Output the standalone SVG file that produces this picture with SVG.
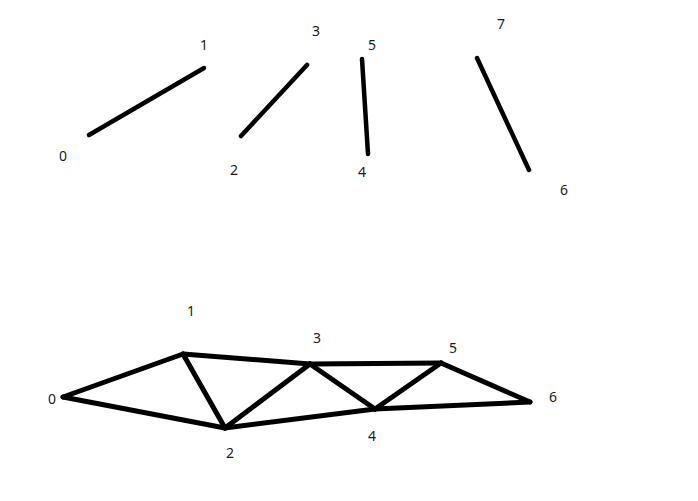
<svg xmlns="http://www.w3.org/2000/svg" width="698" height="501" viewBox="0 0 698 501">
<style>
.e{stroke:#000;stroke-width:4.5;stroke-linecap:round;fill:none}
.b{stroke:#000;stroke-width:5;stroke-linecap:round;stroke-linejoin:round;fill:none}
text{font-family:"Noto Sans","DejaVu Sans",sans-serif;font-size:14px;fill:#1a1a1a;text-anchor:middle}
</style>
<rect width="698" height="501" fill="#fff"/>
<g id="connectors">
<line class="e" x1="89" y1="135" x2="204" y2="68"/>
<line class="e" x1="241" y1="136" x2="307" y2="65"/>
<line class="e" x1="362" y1="59" x2="368" y2="154"/>
<line class="e" x1="477" y1="58" x2="529" y2="170"/>
<line class="b" x1="63" y1="397" x2="183" y2="354"/>
<line class="b" x1="63" y1="397" x2="225" y2="428"/>
<line class="b" x1="183" y1="354" x2="225" y2="428"/>
<line class="b" x1="183" y1="354" x2="310" y2="364"/>
<line class="b" x1="225" y1="428" x2="310" y2="364"/>
<line class="b" x1="225" y1="428" x2="375" y2="409"/>
<line class="b" x1="310" y1="364" x2="375" y2="409"/>
<line class="b" x1="310" y1="364" x2="441" y2="363"/>
<line class="b" x1="375" y1="409" x2="441" y2="363"/>
<line class="b" x1="375" y1="409" x2="530" y2="402"/>
<line class="b" x1="441" y1="363" x2="530" y2="402"/>
</g>
<g id="top-0"><text x="63" y="161">0</text></g>
<g id="top-1"><text x="204" y="50">1</text></g>
<g id="top-2"><text x="234" y="175">2</text></g>
<g id="top-3"><text x="316" y="36">3</text></g>
<g id="top-4"><text x="362" y="177">4</text></g>
<g id="top-5"><text x="372" y="50">5</text></g>
<g id="top-6"><text x="564" y="195">6</text></g>
<g id="top-7"><text x="501" y="29">7</text></g>
<g id="bot-0"><text x="52" y="404">0</text></g>
<g id="bot-1"><text x="191" y="316">1</text></g>
<g id="bot-2"><text x="230" y="458">2</text></g>
<g id="bot-3"><text x="317" y="343">3</text></g>
<g id="bot-4"><text x="372" y="441">4</text></g>
<g id="bot-5"><text x="453" y="353">5</text></g>
<g id="bot-6"><text x="553" y="402">6</text></g>
</svg>
